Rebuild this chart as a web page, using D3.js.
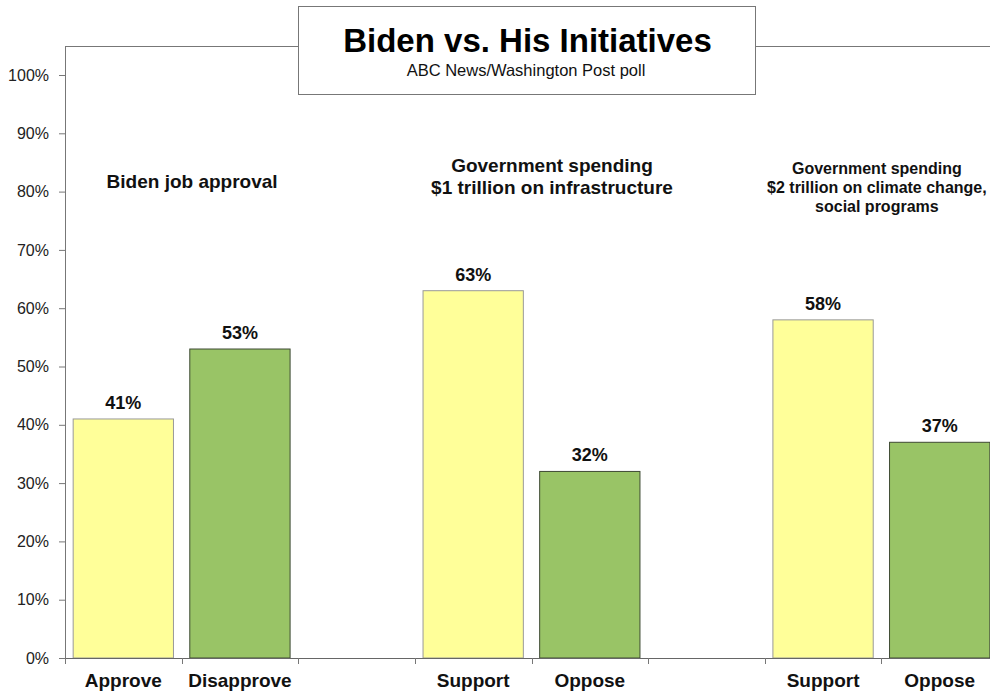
<!DOCTYPE html>
<html><head><meta charset="utf-8">
<script src="https://cdn.jsdelivr.net/npm/d3@7"></script>
<style>body{margin:0;background:#fff;}svg{display:block;font-family:"Liberation Sans",Arial,sans-serif;}</style>
</head><body><svg id="c" width="990" height="693"></svg>
<script>
const slots = ["s0","s1","g1","s3","s4","g2","s6","s7"];
const categories = ["Approve","Disapprove","Support","Oppose","Support","Oppose"];
const slotOf = ["s0","s1","s3","s4","s6","s7"];
const values = [41,53,63,32,58,37];
const kinds = ["yes","no","yes","no","yes","no"];
const yTicks = [0,10,20,30,40,50,60,70,80,90,100];
const groupLines = [
  ["Biden job approval"],
  ["Government spending","$1 trillion on infrastructure"],
  ["Government spending","$2 trillion on climate change,","social programs"]
];
const groupSlots = [["s0","s1"],["s3","s4"],["s6","s7"]];
const title = "Biden vs. His Initiatives";
const subtitle = "ABC News/Washington Post poll";

// layout
const groupStyle = [
  {size:19, dx:10.5, ys:[188]},
  {size:19, dx:20.5, ys:[172,194]},
  {size:16, dx:-4.5, ys:[174,193,212]}
];

const svg = d3.select("#c");
const x0 = 65, x1 = 998, y0 = 658, y100 = 75;
const x = d3.scaleBand().domain(slots).range([x0,x1]).paddingInner(0.14).paddingOuter(0.07);
const y = d3.scaleLinear().domain([0,100]).range([y0,y100]);

// frame lines
svg.append("line").attr("x1",x0).attr("x2",298).attr("y1",46.5).attr("y2",46.5).attr("stroke","#777");
svg.append("line").attr("x1",756).attr("x2",990).attr("y1",46.5).attr("y2",46.5).attr("stroke","#777");
svg.append("line").attr("x1",x0+0.5).attr("x2",x0+0.5).attr("y1",46).attr("y2",y0).attr("stroke","#777");

// y axis
const ya = svg.append("g").attr("transform",`translate(${x0},0)`)
  .call(d3.axisLeft(y).tickValues(yTicks).tickFormat(d=>d+"%").tickSize(6).tickSizeOuter(0));
ya.select(".domain").attr("stroke","#777");
ya.selectAll(".tick line").attr("stroke","#777");
ya.selectAll(".tick text").attr("font-size",16).attr("fill","#222").attr("x",-16)
  .style("font-family","'Liberation Sans',Arial,sans-serif");

// bars
const data = values.map((v,i)=>({v, cat:categories[i], slot:slotOf[i], kind:kinds[i]}));
svg.selectAll("rect.bar").data(data).join("rect").attr("class","bar")
  .attr("x",d=>x(d.slot)).attr("width",x.bandwidth())
  .attr("y",d=>y(d.v)).attr("height",d=>y0-y(d.v))
  .attr("fill",d=>d.kind==="yes"?"#FFFF99":"#99C466")
  .attr("stroke",d=>d.kind==="yes"?"#999":"#3e4a33").attr("stroke-width",1);

// value labels
svg.selectAll("text.val").data(data).join("text").attr("class","val")
  .attr("x",d=>x(d.slot)+x.bandwidth()/2).attr("y",d=>y(d.v)-10)
  .attr("text-anchor","middle").attr("font-size",18).attr("font-weight","bold").attr("fill","#111")
  .text(d=>d.v+"%");

// x axis
svg.append("line").attr("x1",x0).attr("x2",990).attr("y1",y0+0.5).attr("y2",y0+0.5).attr("stroke","#666");
const step = x.step();
d3.range(slots.length+1).forEach(i=>{
  const tx = Math.round(x0 + i*step)+0.5;
  svg.append("line").attr("x1",tx).attr("x2",tx).attr("y1",y0).attr("y2",y0+6).attr("stroke","#777");
});
svg.selectAll("text.cat").data(data).join("text").attr("class","cat")
  .attr("x",d=>x(d.slot)+x.bandwidth()/2).attr("y",687)
  .attr("text-anchor","middle").attr("font-size",19).attr("font-weight","bold").attr("fill","#111")
  .text(d=>d.cat);

// group labels
groupLines.forEach((lines,gi)=>{
  const s = groupSlots[gi], st = groupStyle[gi];
  const cx = (x(s[0]) + x(s[1]) + x.bandwidth())/2 + st.dx;
  lines.forEach((ln,li)=>{
    svg.append("text").attr("x",cx).attr("y",st.ys[li]).attr("text-anchor","middle")
      .attr("font-size",st.size).attr("font-weight","bold").attr("fill","#111").text(ln);
  });
});

// title box
svg.append("rect").attr("x",298.5).attr("y",6.5).attr("width",457).attr("height",88).attr("fill","#fff").attr("stroke","#777");
svg.append("text").attr("x",527.5).attr("y",52).attr("text-anchor","middle").attr("font-size",33).attr("font-weight","bold").attr("fill","#000").text(title);
svg.append("text").attr("x",526).attr("y",76).attr("text-anchor","middle").attr("font-size",16.5).attr("fill","#111").text(subtitle);
</script></body></html>
